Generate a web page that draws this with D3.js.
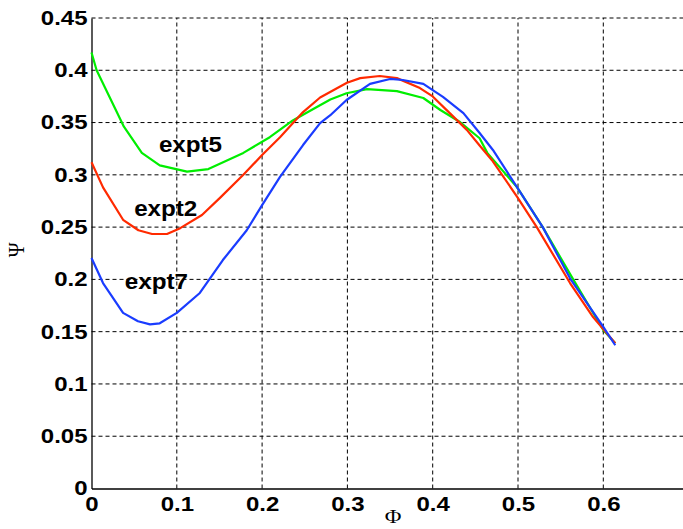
<!DOCTYPE html>
<html><head><meta charset="utf-8">
<script src="https://cdn.jsdelivr.net/npm/d3@7"></script>
<style>body{margin:0;background:#fff}svg{display:block}</style>
</head><body>
<script>
const phi5 = [0,0.006,0.038,0.059,0.080,0.112,0.137,0.178,0.209,0.236,0.260,0.280,0.299,0.323,0.358,0.389,0.409,0.432,0.455,0.464,0.499,0.529,0.564,0.600,0.614];
const psi5 = [0.4170,0.400,0.346,0.321,0.309,0.303,0.3055,0.321,0.336,0.352,0.363,0.372,0.378,0.382,0.380,0.3735,0.362,0.3505,0.335,0.321,0.288,0.250,0.201,0.1516,0.139];
const phi2 = [0,0.0135,0.037,0.055,0.071,0.0885,0.104,0.1295,0.1506,0.178,0.200,0.221,0.248,0.268,0.2995,0.315,0.338,0.358,0.385,0.400,0.420,0.440,0.455,0.4695,0.499,0.522,0.561,0.588,0.614];
const psi2 = [0.312,0.288,0.257,0.247,0.2434,0.2434,0.249,0.2616,0.278,0.300,0.319,0.336,0.360,0.374,0.388,0.3925,0.3945,0.3925,0.383,0.375,0.359,0.343,0.328,0.314,0.279,0.250,0.1965,0.164,0.139];
const phi7 = [0,0.0135,0.037,0.0545,0.0686,0.080,0.100,0.127,0.154,0.182,0.200,0.221,0.248,0.268,0.280,0.299,0.3265,0.350,0.365,0.389,0.412,0.436,0.455,0.4706,0.499,0.529,0.561,0.600,0.614];
const psi7 = [0.2205,0.1965,0.168,0.160,0.157,0.158,0.168,0.187,0.2185,0.247,0.271,0.298,0.3285,0.3495,0.357,0.3716,0.387,0.3917,0.3907,0.387,0.3745,0.359,0.340,0.3238,0.288,0.250,0.201,0.1545,0.137];
const xTicks = [0,0.1,0.2,0.3,0.4,0.5,0.6];
const yTicks = [0,0.05,0.1,0.15,0.2,0.25,0.3,0.35,0.4,0.45];
const seriesNames = ["expt5","expt2","expt7"];
const seriesColors = ["#00ee00","#ff2a00","#1a3cff"];
const labelPos = [[0.079,0.322],[0.050,0.261],[0.039,0.191]];

const W=683,H=529;
const svg=d3.select("body").append("svg").attr("width",W).attr("height",H);
const x=d3.scaleLinear().domain([0,0.7]).range([91.5,688.6]);
const y=d3.scaleLinear().domain([0,0.45]).range([488.5,18]);
const fmt=d=>d===0?"0":String(+d.toFixed(2));

// grid
const g=svg.append("g");
g.selectAll(".gx").data(xTicks.filter(d=>d>0)).join("line")
 .attr("x1",d=>x(d)).attr("x2",d=>x(d)).attr("y1",y(0)).attr("y2",y(0.45))
 .attr("stroke","#000").attr("stroke-width",1).attr("stroke-dasharray","4,3");
g.selectAll(".gy").data(yTicks.filter(d=>d>0)).join("line")
 .attr("x1",x(0)).attr("x2",x(0.7)).attr("y1",d=>y(d)).attr("y2",d=>y(d))
 .attr("stroke","#000").attr("stroke-width",1).attr("stroke-dasharray","4,3");

// axes
const ax=svg.append("g").attr("transform",`translate(0,${y(0)})`)
 .call(d3.axisBottom(x).tickValues(xTicks).tickFormat(fmt).tickSize(0).tickPadding(8));
const ay=svg.append("g").attr("transform",`translate(${x(0)},0)`)
 .call(d3.axisLeft(y).tickValues(yTicks).tickFormat(fmt).tickSize(0).tickPadding(4));
[ax,ay].forEach(a=>{
  a.select(".domain").attr("stroke","#000").attr("stroke-width",1.3);
  a.selectAll("text").attr("font-family","Liberation Sans, Arial, sans-serif")
   .attr("font-weight","bold").attr("font-size","20px").attr("fill","#000")
   .attr("transform","scale(1.2,1)");
});
ay.selectAll("text").attr("x",-4/1.2);

// lines
const line=d3.line().x(d=>x(d[0])).y(d=>y(d[1])).curve(d3.curveLinear);
const data=[d3.zip(phi5,psi5),d3.zip(phi2,psi2),d3.zip(phi7,psi7)];
svg.selectAll(".s").data(data).join("path")
 .attr("d",line).attr("fill","none").attr("stroke",(d,i)=>seriesColors[i])
 .attr("stroke-width",2.2).attr("stroke-linejoin","round");

// labels
svg.selectAll(".lab").data(seriesNames).join("text")
 .attr("transform",(d,i)=>`translate(${x(labelPos[i][0])},${y(labelPos[i][1])}) scale(1.1,1)`)
 .attr("font-family","Liberation Sans, Arial, sans-serif").attr("font-weight","bold")
 .attr("font-size","22px").attr("fill","#000").text(d=>d);

// axis titles
svg.append("text").attr("transform","translate(393,523) scale(1.2,1)").attr("text-anchor","middle")
 .attr("font-family","Liberation Serif, Times New Roman, serif").attr("font-size","19px").text("Φ");
svg.append("text").attr("transform","translate(24,250) rotate(-90) scale(1,1.2)").attr("text-anchor","middle")
 .attr("font-family","Liberation Serif, Times New Roman, serif").attr("font-size","20px").text("Ψ");
</script>
</body></html>
